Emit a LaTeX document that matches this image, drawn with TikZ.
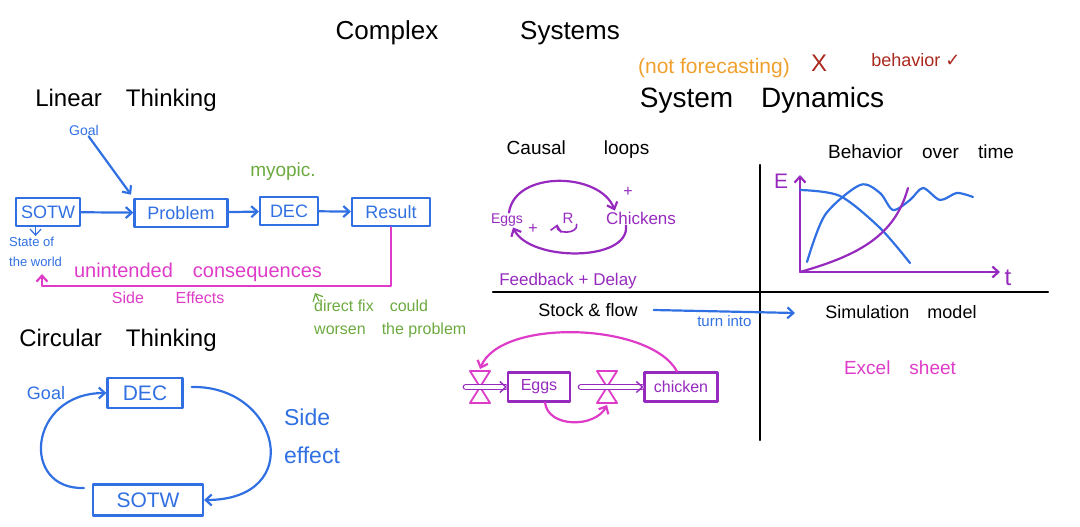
\documentclass[tikz,border=0pt]{standalone}
\usepackage{fontspec}
\setmainfont{Liberation Sans}
\newfontfamily\symbfont{DejaVu Sans}
\usetikzlibrary{arrows.meta,positioning}
\definecolor{penblue}{RGB}{48,112,226}
\definecolor{penpink}{RGB}{222,60,200}
\definecolor{penpurple}{RGB}{150,42,190}
\definecolor{pengreen}{RGB}{108,170,64}
\definecolor{penorange}{RGB}{240,160,45}
\definecolor{penred}{RGB}{170,40,30}
\newcommand{\sz}[1]{\fontsize{#1}{#1}\selectfont}

\begin{document}
\begin{tikzpicture}[x=1pt, y=-1pt, >={Straight Barb[length=6pt,width=11pt]}, line cap=round, line join=round,
  ink/.style={line width=2.2pt},
  txt/.style={inner sep=1pt},
  penbox/.style={draw, line width=2.2pt, inner sep=2pt, minimum height=28pt},
  valve/.pic={\draw[penpink, line width=1.8pt] (-10,-16) -- (10,-16) -- (-10,16) -- (10,16) -- cycle;},
  flow/.style={->, penpurple, line width=1.4pt, double distance=4pt}]
\useasboundingbox (0,0) rectangle (1080,527);

\node[txt, font=\sz{26}] (complex) at (387,33) {Complex};
\node[txt, font=\sz{26}] (systems) at (570,33) {Systems};
\node[txt, font=\sz{21}, text=penorange] (notfc) at (714,68) {(not forecasting)};
\node[txt, font=\sz{24}, text=penred] (cross) at (819,63) {X};
\node[txt, font=\sz{18}, text=penred] (behav) at (916,60) {behavior {\symbfont ✓}};
\node[txt, font=\sz{28}] (sysdyn) at (762,100) {System\quad Dynamics};

% linear thinking
\node[txt, font=\sz{24}] (linear) at (126,100) {Linear\quad Thinking};
\node[txt, font=\sz{14}, text=penblue] (goal1) at (84,130) {Goal};
\node[penbox, draw=penblue, text=penblue, font=\sz{18}, minimum width=64pt] (sotw1) at (48,212) {SOTW};
\node[penbox, draw=penblue, text=penblue, font=\sz{18}, minimum width=93pt] (prob) at (181,213) {Problem};
\node[penbox, draw=penblue, text=penblue, font=\sz{18}, minimum width=58pt] (dec1) at (289,211) {DEC};
\node[penbox, draw=penblue, text=penblue, font=\sz{18}, minimum width=78pt] (res) at (391,212) {Result};
\node[txt, font=\sz{19}, text=pengreen] (myopic) at (283,172) {myopic.};
\node[txt, font=\fontsize{13}{20}\selectfont, text=penblue, align=left, anchor=north west] (stw) at (8,236) {State of\\the world};
\foreach \a/\b in {sotw1/prob, prob/dec1, dec1/res}
  \draw[->, ink, penblue] (\a) -- (\b);
\draw[->, ink, penblue, shorten >=4pt] (goal1) -- (prob.north west);
\draw[->, penblue, line width=1.2pt] (sotw1.south -| stw.north) -- (stw.north);
\coordinate (ucend) at (42,286);
\draw[->, ink, penpink] (res.south) |- (ucend) -- ++(0,-12);
\node[txt, font=\sz{20}, text=penpink] (unint) at (198,272) {unintended\quad consequences};
\node[txt, font=\sz{16}, text=penpink] (side1) at (128,298) {Side};
\node[txt, font=\sz{16}, text=penpink] (effects) at (200,298) {Effects};
\node[txt, font=\fontsize{16}{23}\selectfont, text=pengreen, align=left, anchor=north west] (fix) at (313,299) {direct fix\quad could\\worsen\quad the problem};
\draw[->, pengreen, line width=1.2pt] ([xshift=6pt, yshift=-2pt]fix.north west) -- ++(-4,-8);

% circular thinking
\node[txt, font=\sz{24}] (circ) at (118,340) {Circular\quad Thinking};
\node[penbox, draw=penblue, text=penblue, font=\sz{21}, minimum width=75pt, minimum height=30pt] (dec2) at (145,393) {DEC};
\node[penbox, draw=penblue, text=penblue, font=\sz{21}, minimum width=110pt, minimum height=31pt] (sotw2) at (148,500) {SOTW};
\node[txt, font=\sz{18}, text=penblue] (goal2) at (46,393) {Goal};
\node[txt, font=\fontsize{23}{38}\selectfont, text=penblue, align=left] (side2) at (312,436) {Side\\effect};
\draw[->, ink, penblue] ([xshift=8pt, yshift=6pt]dec2.east) .. controls (280,385) and (307,500) .. (sotw2.east);
\draw[->, ink, penblue] ([xshift=-8pt, yshift=12pt]sotw2.west) .. controls (20,490) and (28,393) .. (dec2.west);

% quadrants
\draw[ink] (493,292) -- (1048,292);
\draw[ink] (760,165) -- (760,440);

% causal loops
\node[txt, font=\sz{19}] (causal) at (578,150) {Causal\quad\quad loops};
\node[txt, font=\sz{14}, text=penpurple] (eggs1) at (507,220) {Eggs};
\node[txt, font=\sz{17}, text=penpurple] (chick1) at (641,218) {Chickens};
\node[txt, font=\sz{16}, text=penpurple] (plus1) at (628,192) {+};
\node[txt, font=\sz{16}, text=penpurple] (plus2) at (533,229) {+};
\node[txt, font=\sz{15}, text=penpurple] (rl) at (568,218) {R};
\draw[->, ink, penpurple] ([xshift=2pt]eggs1.north) .. controls (515,170) and (600,172) .. ([xshift=10pt]chick1.north west);
\draw[->, ink, penpurple] ([xshift=-15pt]chick1.south) .. controls (630,262) and (530,262) .. ([xshift=6pt]eggs1.south);
\draw[->, penpurple, line width=1.6pt] ([xshift=2pt]rl.south east) .. controls +(2,10) and +(-2,10) .. ([xshift=-4pt]rl.south west);
\node[txt, font=\sz{17}, text=penpurple] (fbd) at (568,281) {Feedback + Delay};

% behavior over time
\node[txt, font=\sz{19}] (bot) at (921,152) {Behavior\quad over\quad time};
\coordinate (ytop) at (800,175);
\coordinate (o) at (800,272);
\coordinate (xend) at (1000,272);
\draw[<->, ink, penpurple] (ytop) -- (o) -- (xend);
\node[txt, font=\sz{21}, text=penpurple] (elab) at (781,181) {E};
\node[txt, font=\sz{24}, text=penpurple] (tlab) at (1008,278) {t};
\draw[ink, penblue] plot[smooth] coordinates {(800,190) (840,196) (880,228) (910,263)};
\draw[ink, penblue] plot[smooth] coordinates {(807,262) (825,215) (860,185) (880,193) (893,210) (910,200) (923,188) (940,200) (957,193) (973,197)};
\draw[ink, penpurple] (o) .. controls (860,255) and (895,235) .. (908,188);

% stock & flow
\node[txt, font=\sz{18}] (sf) at (588,310) {Stock \& flow};
\node[txt, font=\sz{18}] (sim) at (901,312) {Simulation\quad model};
\coordinate (tiend) at (795,313);
\draw[->, ink, penblue] ([xshift=15pt]sf.east) -- node[below=2pt, txt, font=\sz{15}, text=penblue] (turn) {turn into} (tiend);
\node[txt, font=\sz{19}, text=penpink] (excel) at (900,368) {Excel\quad sheet};
\node[penbox, draw=penpurple, text=penpurple, font=\sz{16}, minimum width=62pt, minimum height=29pt] (eggs2) at (539,387) {Eggs};
\node[penbox, draw=penpurple, text=penpurple, font=\sz{16}, minimum width=73pt, minimum height=29pt] (chick2) at (681,387) {chicken};
\coordinate (vl) at (480,387);
\coordinate (vm) at (607,387);
\foreach \v in {vl, vm}
  \pic at (\v) {valve};
\draw[flow] ([xshift=-14pt]vl) -- (eggs2.west);
\draw[flow] ([xshift=10pt]eggs2.east) -- (chick2.west);
\draw[->, ink, penpink] ([xshift=-4pt]chick2.north) .. controls (650,322) and (500,318) .. ([yshift=18pt]vl);
\draw[->, ink, penpink] ([xshift=6pt]eggs2.south) .. controls (548,428) and (595,428) .. ([yshift=-18pt]vm);
\end{tikzpicture}
\end{document}
